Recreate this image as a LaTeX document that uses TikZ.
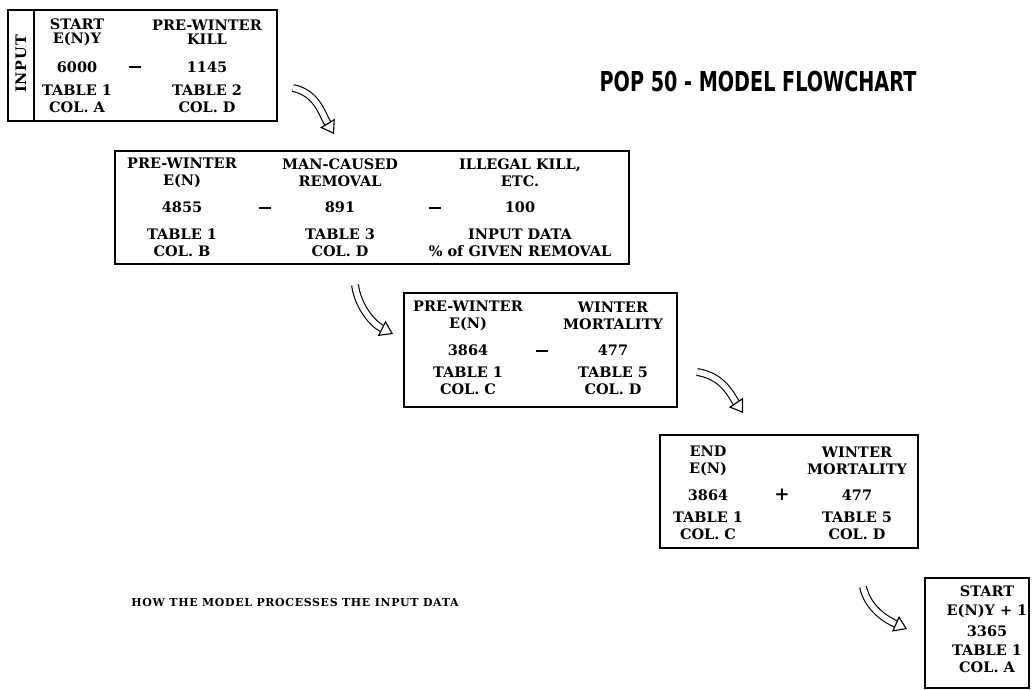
\documentclass[tikz,border=0pt]{standalone}
\usepackage{fontspec}
\setmainfont{DejaVu Serif}
\newfontfamily\titlefont[FakeStretch=0.7]{DejaVu Sans}
\newfontfamily\notefont[LetterSpace=6]{DejaVu Serif}
\usetikzlibrary{arrows.meta}

\tikzset{
  flowbox/.style={draw, line width=1.1pt},
  cell/.style={font=\bfseries\fontsize{10.3}{12}\selectfont, align=center, inner sep=0pt},
  tight/.style={font=\bfseries\fontsize{10.3}{10}\selectfont},
  op/.style={inner sep=0pt},
  hollow/.style={line width=0.8pt, double=white, double distance=4pt,
    -{Triangle[open, length=9pt, width=12pt, line width=0.8pt]}},
}
\newcommand{\minus}{\rule{9pt}{1.2pt}}

\begin{document}
\begin{tikzpicture}[x=0.025cm, y=-0.025cm]
\useasboundingbox (0,0) rectangle (1032,690);

% title and note
\node[font=\titlefont\bfseries\fontsize{19.5}{22}\selectfont, inner sep=0pt] (title) at (758,82) {POP 50 - MODEL FLOWCHART};
\node[font=\notefont\bfseries\fontsize{7.8}{9}\selectfont, inner sep=0pt] (note) at (295,603) {HOW THE MODEL PROCESSES THE INPUT DATA};

% box 1: input
\draw[flowbox] (8,10) rectangle (277,121);
\draw[flowbox] (34,10) -- (34,121);
\node[cell, rotate=90, font=\bfseries\fontsize{10.3}{12}\addfontfeature{LetterSpace=6}\selectfont] (input) at (21,64) {INPUT};
\node[cell, tight] (b1h1) at (77,32) {START\\E(N)Y};
\node[cell, tight] (b1h2) at (207,32) {PRE-WINTER\\KILL};
\node[cell] (b1n1) at (77,67) {6000};
\node[op] (b1o1) at (135,67) {\minus};
\node[cell] (b1n2) at (207,67) {1145};
\node[cell] (b1s1) at (77,99) {TABLE 1\\COL. A};
\node[cell] (b1s2) at (207,99) {TABLE 2\\COL. D};

% box 2
\draw[flowbox] (115,151) rectangle (629,264);
\node[cell] (b2h1) at (182,173) {PRE-WINTER\\E(N)};
\node[cell] (b2h2) at (340,173) {MAN-CAUSED\\REMOVAL};
\node[cell] (b2h3) at (520,173) {ILLEGAL KILL,\\ETC.};
\node[cell] (b2n1) at (182,207) {4855};
\node[op] (b2o1) at (265,208) {\minus};
\node[cell] (b2n2) at (340,207) {891};
\node[op] (b2o2) at (435,208) {\minus};
\node[cell] (b2n3) at (520,207) {100};
\node[cell] (b2s1) at (182,243) {TABLE 1\\COL. B};
\node[cell] (b2s2) at (340,243) {TABLE 3\\COL. D};
\node[cell] (b2s3) at (520,243) {INPUT DATA\\\% of GIVEN REMOVAL};

% box 3
\draw[flowbox] (404,293) rectangle (677,407);
\node[cell] (b3h1) at (468,316) {PRE-WINTER\\E(N)};
\node[cell] (b3h2) at (613,316) {WINTER\\MORTALITY};
\node[cell] (b3n1) at (468,350) {3864};
\node[op] (b3o1) at (542,351) {\minus};
\node[cell] (b3n2) at (613,350) {477};
\node[cell] (b3s1) at (468,381) {TABLE 1\\COL. C};
\node[cell] (b3s2) at (613,381) {TABLE 5\\COL. D};

% box 4
\draw[flowbox] (660,435) rectangle (918,548);
\node[cell] (b4h1) at (708,461) {END\\E(N)};
\node[cell] (b4h2) at (857,461) {WINTER\\MORTALITY};
\node[cell] (b4n1) at (708,495) {3864};
\node[cell, font=\bfseries\fontsize{13}{14}\selectfont] (b4o1) at (782,495) {+};
\node[cell] (b4n2) at (857,495) {477};
\node[cell] (b4s1) at (708,526) {TABLE 1\\COL. C};
\node[cell] (b4s2) at (857,526) {TABLE 5\\COL. D};

% box 5: next year
\draw[flowbox] (925,578) rectangle (1029,688);
\node[cell, font=\bfseries\fontsize{10.3}{13.5}\selectfont] (b5h1) at (987,602) {START\\E(N)Y + 1};
\node[cell] (b5n1) at (987,631) {3365};
\node[cell] (b5s1) at (987,659) {TABLE 1\\COL. A};

% arrows between the steps
\coordinate (a1s) at (293,88);  \coordinate (a1e) at (334,134);
\coordinate (a2s) at (355,285); \coordinate (a2e) at (393,334);
\coordinate (a3s) at (697,372); \coordinate (a3e) at (743,413);
\coordinate (a4s) at (863,587); \coordinate (a4e) at (907,629);
\draw[hollow] (a1s) .. controls +(24,5) and +(-12,-20) .. (a1e);
\draw[hollow] (a2s) .. controls +(3,22) and +(-20,-10) .. (a2e);
\draw[hollow] (a3s) .. controls +(26,4) and +(-12,-18) .. (a3e);
\draw[hollow] (a4s) .. controls +(5,22) and +(-20,-9) .. (a4e);
\end{tikzpicture}
\end{document}
